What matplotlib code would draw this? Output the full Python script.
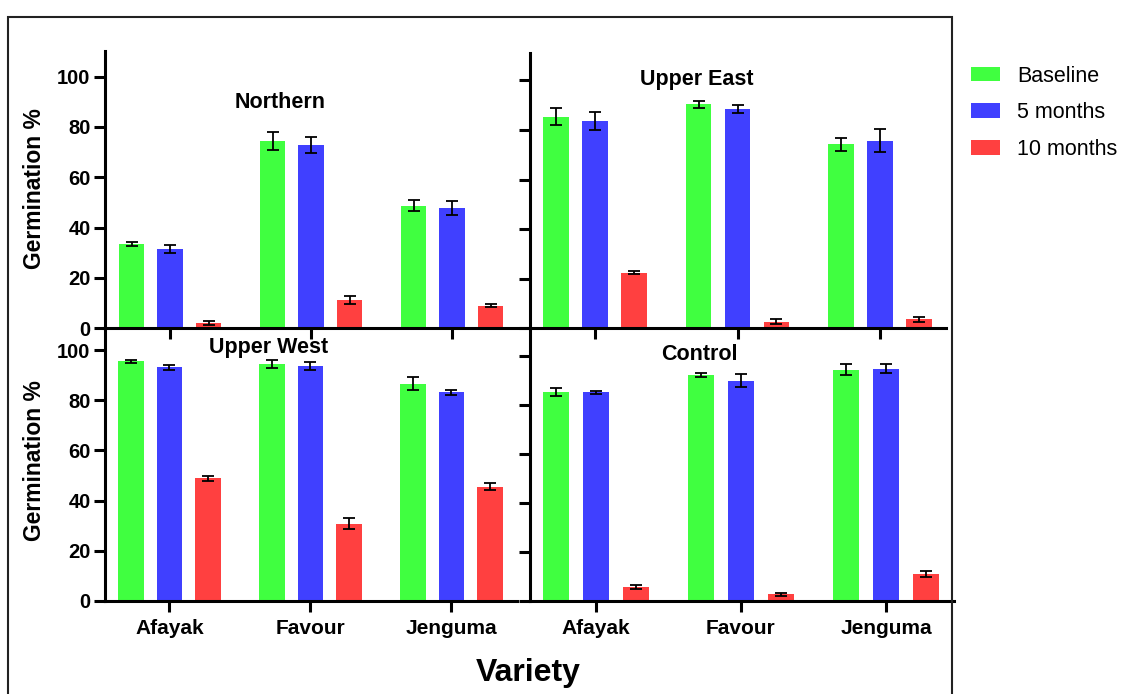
import matplotlib
matplotlib.use("Agg")
import matplotlib.pyplot as plt
import numpy as np
from matplotlib.patches import Rectangle

plt.rcParams['font.family'] = ['Liberation Sans', 'DejaVu Sans']

varieties = ["Afayak", "Favour", "Jenguma"]
series = ["Baseline", "5 months", "10 months"]
colors = ["#40FF40", "#4040FF", "#FF4040"]

# Germination % (mean) and error per region, ordered Afayak, Favour, Jenguma
northern_base = [33.5, 74.4, 48.7]
northern_5m = [31.4, 72.9, 47.8]
northern_10m = [2.1, 11.2, 9.0]
northern_base_err = [0.8, 3.6, 2.1]
northern_5m_err = [1.5, 3.1, 2.7]
northern_10m_err = [0.7, 1.5, 0.7]

upper_east_base = [85.4, 90.3, 74.2]
upper_east_5m = [83.6, 88.6, 75.6]
upper_east_10m = [22.4, 2.7, 3.6]
upper_east_base_err = [3.5, 1.5, 2.6]
upper_east_5m_err = [3.5, 1.6, 4.6]
upper_east_10m_err = [0.7, 1.0, 1.1]

upper_west_base = [95.5, 94.4, 86.5]
upper_west_5m = [93.1, 93.6, 83.1]
upper_west_10m = [48.9, 30.8, 45.6]
upper_west_base_err = [0.5, 1.5, 2.6]
upper_west_5m_err = [1.1, 1.5, 1.0]
upper_west_10m_err = [1.0, 2.1, 1.5]

control_base = [85.1, 92.2, 94.4]
control_5m = [85.1, 89.8, 94.8]
control_10m = [5.4, 2.5, 10.8]
control_base_err = [1.6, 0.7, 2.4]
control_5m_err = [0.5, 2.7, 1.8]
control_10m_err = [0.75, 0.7, 1.1]

W, H = 1129, 694
fig = plt.figure(figsize=(W / 100, H / 100), dpi=100)


def px_rect(left, right, top, bottom):
    return [left / W, 1 - bottom / H, (right - left) / W, (bottom - top) / H]


panels = [
    # (name, rect px, xlim, ylim top, means, errs, show y labels, show x labels, title pos)
    ("Northern", (104.5, 530, 50.7, 328.3), (-0.465, 2.553), 110.3,
     [northern_base, northern_5m, northern_10m],
     [northern_base_err, northern_5m_err, northern_10m_err], True, False, (280, 102)),
    ("Upper East", (530, 946, 53.3, 328.3), (-0.456, 2.463), 110.9,
     [upper_east_base, upper_east_5m, upper_east_10m],
     [upper_east_base_err, upper_east_5m_err, upper_east_10m_err], False, False, (697, 79)),
    ("Upper West", (104.5, 517, 330, 601), (-0.461, 2.465), 108.0,
     [upper_west_base, upper_west_5m, upper_west_10m],
     [upper_west_base_err, upper_west_5m_err, upper_west_10m_err], True, True, (269, 348)),
    ("Control", (530, 954, 330, 600.5), (-0.455, 2.469), 110.6,
     [control_base, control_5m, control_10m],
     [control_base_err, control_5m_err, control_10m_err], False, True, (699, 355)),
]

bar_w = 0.18
offset = 0.273
x = np.arange(len(varieties))
handles = None

for name, rect, xlim, ytop, means, errs, ylab, xlab, tpos in panels:
    ax = fig.add_axes(px_rect(*rect))
    ax.patch.set_alpha(0)
    hs = []
    for i, (m, e) in enumerate(zip(means, errs)):
        b = ax.bar(x + (i - 1) * offset, m, width=bar_w, color=colors[i],
                   yerr=e, capsize=4.5, label=series[i], zorder=2,
                   error_kw=dict(elinewidth=1.3, capthick=1.3, ecolor="black"))
        hs.append(b)
    if handles is None:
        handles = hs
    ax.set_xlim(*xlim)
    ax.set_ylim(0, ytop)
    ax.set_yticks([0, 20, 40, 60, 80, 100])
    ax.set_xticks(x)
    for s in ["top", "right"]:
        ax.spines[s].set_visible(False)
    for s in ["left", "bottom"]:
        ax.spines[s].set_linewidth(2.2)
    ax.tick_params(axis="both", length=8, width=2.2, direction="out")
    ax.tick_params(axis="y", pad=2)
    ax.tick_params(axis="x", pad=5)
    if ylab:
        ax.set_yticklabels([str(v) for v in [0, 20, 40, 60, 80, 100]],
                           fontsize=14.5, fontweight="bold")
    else:
        ax.set_yticklabels([])
    if xlab:
        ax.set_xticklabels(varieties, fontsize=15, fontweight="bold")
    else:
        ax.set_xticklabels([])
    fig.text(tpos[0] / W, 1 - tpos[1] / H, name, ha="center", va="center",
             fontsize=15.5, fontweight="bold")

# y-axis titles
for yc in (189, 461):
    fig.text(34.5 / W, 1 - yc / H, "Germination %", rotation=90, ha="center",
             va="center", fontsize=16.5, fontweight="bold")

# shared x-axis title
fig.text(528 / W, 1 - 673 / H, "Variety", ha="center", va="center",
         fontsize=23, fontweight="bold")

# outer frame around the panels
fig.patches.append(Rectangle((8.3 / W, -0.05), (952.3 - 8.3) / W, 1.05 - 16.7 / H,
                             transform=fig.transFigure, fill=False,
                             edgecolor="#222222", linewidth=1.5))

fig.legend(handles=handles, labels=series, loc="upper left",
           bbox_to_anchor=(971.2 / W, 1 - 65.5 / H), frameon=False, fontsize=15.5,
           handlelength=1.36, handleheight=0.68, handletextpad=0.76,
           labelspacing=0.74, borderpad=0, borderaxespad=0)

fig.savefig("out.png", dpi=100)
